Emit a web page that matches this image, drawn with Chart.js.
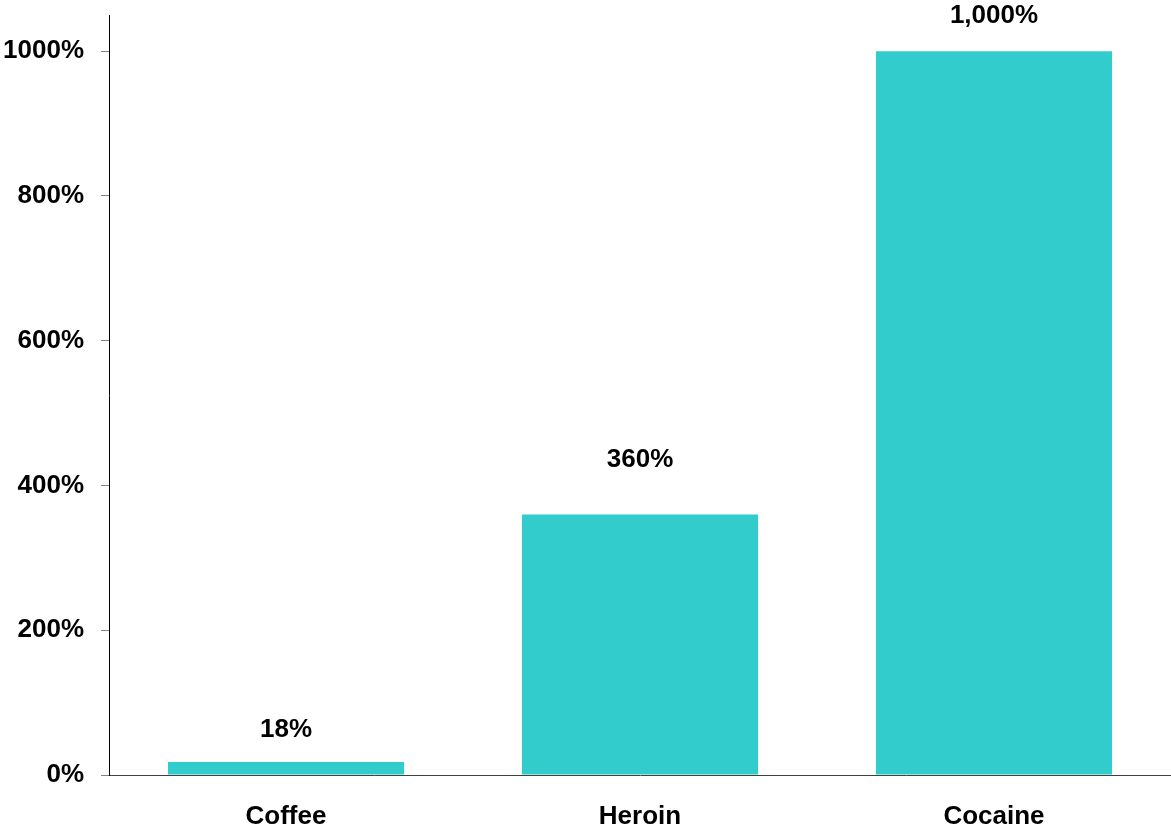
<!DOCTYPE html>
<html>
<head>
<meta charset="utf-8">
<title>Coffee vs Heroin vs Cocaine</title>
<script src="https://cdn.jsdelivr.net/npm/chart.js@4/dist/chart.umd.min.js"></script>
<style>
  html, body { margin: 0; padding: 0; background: #fff; }
  #chartBox { width: 1171px; height: 828px; }
</style>
</head>
<body>
<div id="chartBox"><canvas id="markupChart" width="1171" height="828"></canvas></div>
<script>
// Chart data
const categories = ['Coffee', 'Heroin', 'Cocaine'];
const markupValues = [18, 360, 1000];
const yTickValues = [0, 200, 400, 600, 800, 1000];

const barColor = '#33CCCC';
const textColor = '#000000';
const fontFamily = '"Liberation Sans", Arial, sans-serif';

// Draws the value labels above each bar
const valueLabels = {
    id: 'valueLabels',
    afterDatasetsDraw(chart, args, opts) {
        const ctx = chart.ctx;
        const meta = chart.getDatasetMeta(0);
        ctx.save();
        ctx.font = 'bold 26px ' + fontFamily;
        ctx.fillStyle = textColor;
        ctx.textAlign = 'center';
        ctx.textBaseline = 'middle';
        meta.data.forEach((bar, i) => {
            const v = chart.data.datasets[0].data[i];
            const gap = opts.gaps[i];
            ctx.fillText(v.toLocaleString('en-US') + '%', bar.x, bar.y - gap);
        });
        ctx.restore();
    }
};

const ctx = document.getElementById('markupChart').getContext('2d');
new Chart(ctx, {
    type: 'bar',
    data: {
        labels: categories,
        datasets: [{
            data: markupValues,
            backgroundColor: barColor,
            borderWidth: 0,
            categoryPercentage: 1.0,
            barPercentage: 0.667
        }]
    },
    options: {
        responsive: false,
        animation: false,
        layout: { padding: { top: 15, right: 0, bottom: 0, left: 0 } },
        plugins: {
            legend: { display: false },
            tooltip: { enabled: false },
            valueLabels: { gaps: [32, 55, 35] }
        },
        scales: {
            x: {
                grid: { display: false, drawTicks: false },
                border: { display: true, color: '#404040', width: 1 },
                ticks: {
                    color: textColor,
                    padding: 26,
                    font: { family: fontFamily, size: 26, weight: 'bold' }
                },
                afterFit(scale) {
                    scale.height = 53;
                    scale.paddingLeft = 0;
                    scale.paddingRight = 0;
                }
            },
            y: {
                min: 0,
                max: 1050,
                afterBuildTicks(scale) {
                    scale.ticks = yTickValues.map(v => ({ value: v }));
                },
                grid: {
                    drawOnChartArea: false,
                    drawTicks: true,
                    tickLength: 8,
                    color: '#808080'
                },
                border: { display: true, color: '#000000', width: 1 },
                ticks: {
                    color: textColor,
                    padding: 17,
                    font: { family: fontFamily, size: 26, weight: 'bold' },
                    callback: v => v + '%'
                },
                afterFit(scale) {
                    scale.width = 109;
                    scale.paddingTop = 0;
                    scale.paddingBottom = 0;
                }
            }
        }
    },
    plugins: [valueLabels]
});
</script>
</body>
</html>
